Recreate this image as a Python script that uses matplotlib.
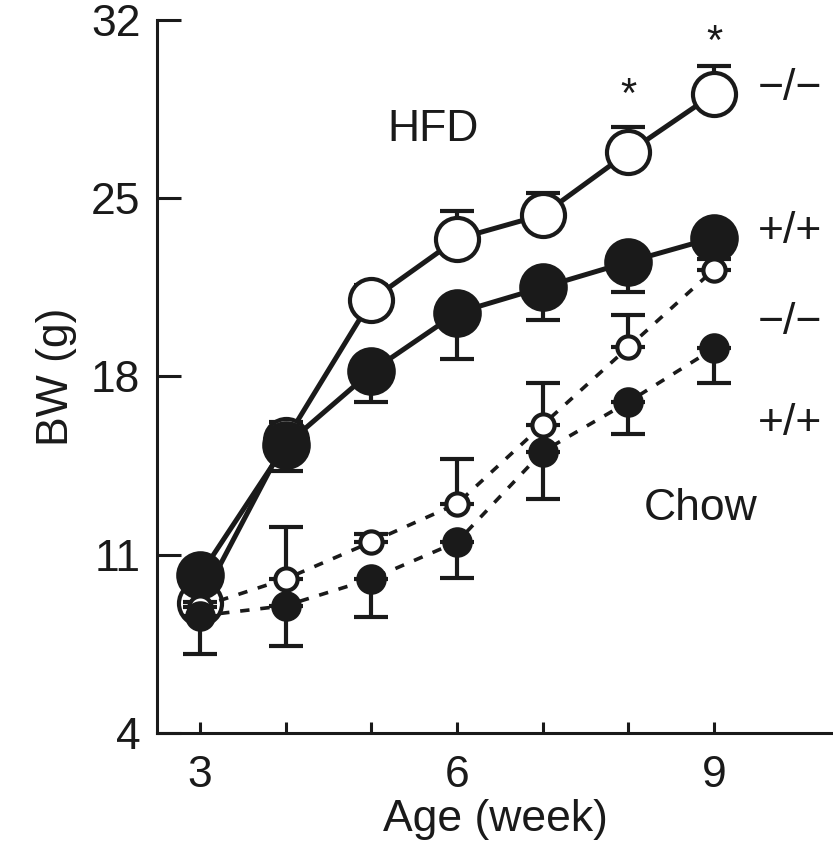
import matplotlib.pyplot as plt
from matplotlib.ticker import FixedLocator

plt.rcParams['font.family'] = ['Liberation Sans', 'DejaVu Sans']

weeks = [3, 4, 5, 6, 7, 8, 9]

# HFD groups (mean, one-sided SE)
hfd_ko = [9.1, 15.5, 21.0, 23.4, 24.35, 26.8, 29.1]
hfd_ko_err = [0.3, 0.7, 0.6, 1.1, 0.85, 1.0, 1.1]
hfd_wt = [10.2, 15.3, 18.2, 20.5, 21.5, 22.5, 23.45]
hfd_wt_err = [0.3, 1.0, 1.2, 1.8, 1.3, 1.2, 0.3]

# Chow groups
chow_ko = [8.95, 10.05, 11.5, 13.0, 16.1, 19.15, 22.2]
chow_ko_err = [0.2, 2.05, 0.3, 1.75, 1.65, 1.25, 0.4]
chow_wt = [8.6, 9.0, 10.05, 11.5, 15.05, 17.0, 19.1]
chow_wt_err = [1.5, 1.6, 1.5, 1.4, 1.85, 1.25, 1.35]

star_weeks = [8, 9]
star_y = [29.0, 31.1]

fig = plt.figure(figsize=(8.33, 8.52), dpi=100)
ax = fig.add_axes([0.1885, 0.1397, 0.8115, 0.8368])

k = '#1a1a1a'
fs = 32

def series(y, err, upper, ms, filled, ls, lw, z):
    e = [[0] * len(err), err] if upper else [err, [0] * len(err)]
    ax.errorbar(weeks, y, yerr=e, fmt='none', ecolor=k, elinewidth=3,
                capsize=12, capthick=3, zorder=z)
    ax.plot(weeks, y, ls=ls, lw=lw, color=k, marker='o', ms=ms,
            mfc=k if filled else 'white', mec=k, mew=3, zorder=z + 0.5)

series(hfd_ko, hfd_ko_err, True, 31, False, '-', 3.6, 3)
series(hfd_wt, hfd_wt_err, False, 32, True, '-', 3.6, 4)
series(chow_ko, chow_ko_err, True, 16, False, (0, (2.6, 3)), 2.6, 5)
series(chow_wt, chow_wt_err, False, 19, True, (0, (2.6, 3)), 2.6, 6)

for x, y in zip(star_weeks, star_y):
    ax.text(x, y, '*', ha='center', va='center', fontsize=30, color=k)

ax.text(5.72, 27.7, 'HFD', ha='center', va='center', fontsize=fs, color=k)
ax.text(8.84, 12.8, 'Chow', ha='center', va='center', fontsize=fs, color=k)
for lab, y in [('\u2212/\u2212', 29.33), ('+/+', 23.68), ('\u2212/\u2212', 20.14), ('+/+', 16.14)]:
    ax.text(9.51, y, lab, ha='left', va='center', fontsize=fs, color=k)

ax.set_xlim(2.498, 10.39)
ax.set_ylim(4, 32)
ax.set_xticks([3, 6, 9])
ax.xaxis.set_minor_locator(FixedLocator([4, 5, 7, 8]))
ax.set_yticks([4, 11, 18, 25, 32])
ax.tick_params(axis='y', direction='in', length=17, width=2.2, labelsize=fs,
               colors=k, pad=12)
ax.tick_params(axis='x', which='both', direction='in', length=8, width=2.2,
               labelsize=fs, colors=k, pad=16)
for s in ['top', 'right']:
    ax.spines[s].set_visible(False)
for s in ['left', 'bottom']:
    ax.spines[s].set_linewidth(2.2)
    ax.spines[s].set_color(k)

ax.set_xlabel('Age (week)', fontsize=fs, color=k, labelpad=2)
ax.set_ylabel('BW (g)', fontsize=fs, color=k, labelpad=10)

fig.savefig('out.png', dpi=100)
